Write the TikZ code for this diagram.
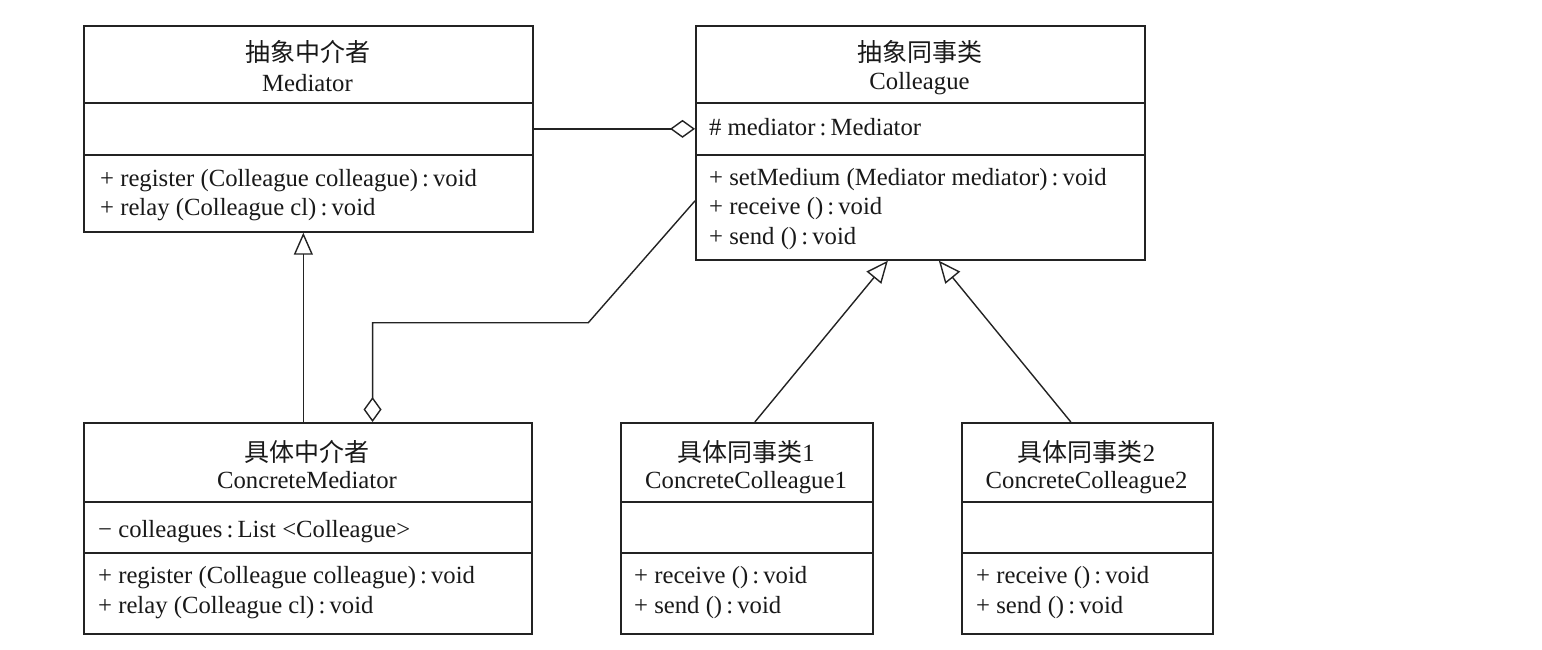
\documentclass[tikz,border=0pt]{standalone}
\usepackage{fontspec}
\setmainfont{Liberation Serif}
\newfontfamily\cjk{Noto Sans CJK SC}
\usetikzlibrary{arrows.meta}
\definecolor{linec}{RGB}{35,35,35}
\definecolor{textc}{RGB}{25,25,25}
\begin{document}
\begin{tikzpicture}[x=1pt,y=-1pt,
  box/.style={draw=linec, line width=1.7pt, inner sep=0pt, anchor=north west},
  div/.style={draw=linec, line width=1.4pt},
  txt/.style={anchor=base west, inner sep=0pt, font=\fontsize{24.7}{28}\selectfont, text=textc},
  ttl/.style={anchor=base, inner sep=0pt, font=\fontsize{24.7}{28}\selectfont, text=textc},
  cjkf/.style={font=\fontsize{25}{28}\selectfont\cjk},
  conn/.style={draw=linec, line width=1.4pt},
  gen/.style={conn, -{Triangle[open, length=22pt, width=19pt, line width=1.4pt]}},
  agg/.style={conn, {Diamond[open, length=25pt, width=18pt, line width=1.4pt]}-},
]
\useasboundingbox[fill=white] (0,0) rectangle (1542,649);

% ---------- Mediator ----------
\node[box, minimum width=449pt, minimum height=206pt] (med) at (83,25) {};
\draw[div] (83,103) -- (532,103);
\draw[div] (83,155) -- (532,155);
\node[ttl, cjkf] (medC) at (307.5,61) {抽象中介者};
\node[ttl] (medN) at (307.5,91) {Mediator};
\node[txt] (medM1) at (100,186) {+ register (Colleague colleague)\,:\,void};
\node[txt] (medM2) at (100,215) {+ relay (Colleague cl)\,:\,void};

% ---------- Colleague ----------
\node[box, minimum width=449pt, minimum height=234pt] (col) at (695,25) {};
\draw[div] (695,103) -- (1144,103);
\draw[div] (695,155) -- (1144,155);
\node[ttl, cjkf] (colC) at (919.5,61) {抽象同事类};
\node[ttl] (colN) at (919.5,89) {Colleague};
\node[txt] (colA) at (709,135) {\# mediator\,:\,Mediator};
\node[txt] (colM1) at (709,185) {+ setMedium (Mediator mediator)\,:\,void};
\node[txt] (colM2) at (709,214.5) {+ receive ()\,:\,void};
\node[txt] (colM3) at (709,244) {+ send ()\,:\,void};

% ---------- ConcreteMediator ----------
\node[box, minimum width=448pt, minimum height=211pt] (cmed) at (83,422) {};
\draw[div] (83,502) -- (531,502);
\draw[div] (83,553) -- (531,553);
\node[ttl, cjkf] (cmedC) at (307,461) {具体中介者};
\node[ttl] (cmedN) at (307,488) {ConcreteMediator};
\node[txt] (cmedA) at (98,537) {− colleagues\,:\,List <Colleague>};
\node[txt] (cmedM1) at (98,583) {+ register (Colleague colleague)\,:\,void};
\node[txt] (cmedM2) at (98,613) {+ relay (Colleague cl)\,:\,void};

% ---------- ConcreteColleague1 ----------
\node[box, minimum width=252pt, minimum height=211pt] (cc1) at (620,422) {};
\draw[div] (620,502) -- (872,502);
\draw[div] (620,553) -- (872,553);
\node[ttl] (cc1C) at (746,461) {{\fontsize{25}{28}\selectfont\cjk 具体同事类}1};
\node[ttl] (cc1N) at (746,488) {ConcreteColleague1};
\node[txt] (cc1M1) at (634,583) {+ receive ()\,:\,void};
\node[txt] (cc1M2) at (634,613) {+ send ()\,:\,void};

% ---------- ConcreteColleague2 ----------
\node[box, minimum width=251pt, minimum height=211pt] (cc2) at (961,422) {};
\draw[div] (961,502) -- (1212,502);
\draw[div] (961,553) -- (1212,553);
\node[ttl] (cc2C) at (1086.5,461) {{\fontsize{25}{28}\selectfont\cjk 具体同事类}2};
\node[ttl] (cc2N) at (1086.5,488) {ConcreteColleague2};
\node[txt] (cc2M1) at (976,583) {+ receive ()\,:\,void};
\node[txt] (cc2M2) at (976,613) {+ send ()\,:\,void};

% ---------- connectors ----------
\draw[agg] (med.east -| col.west) -- (med.east);
\draw[gen] ([xshift=-4.5pt]cmed.north) -- ([xshift=-4.5pt]cmed.north |- med.south);
\draw[agg] ([xshift=64.7pt]cmed.north) |- (588.3,322.7) -- ([yshift=-58pt]col.west);
\draw[gen] ([xshift=8pt]cc1.north) -- ([xshift=-32.5pt]col.south);
\draw[gen] ([xshift=-16.5pt]cc2.north) -- ([xshift=18.5pt]col.south);
\end{tikzpicture}
\end{document}
